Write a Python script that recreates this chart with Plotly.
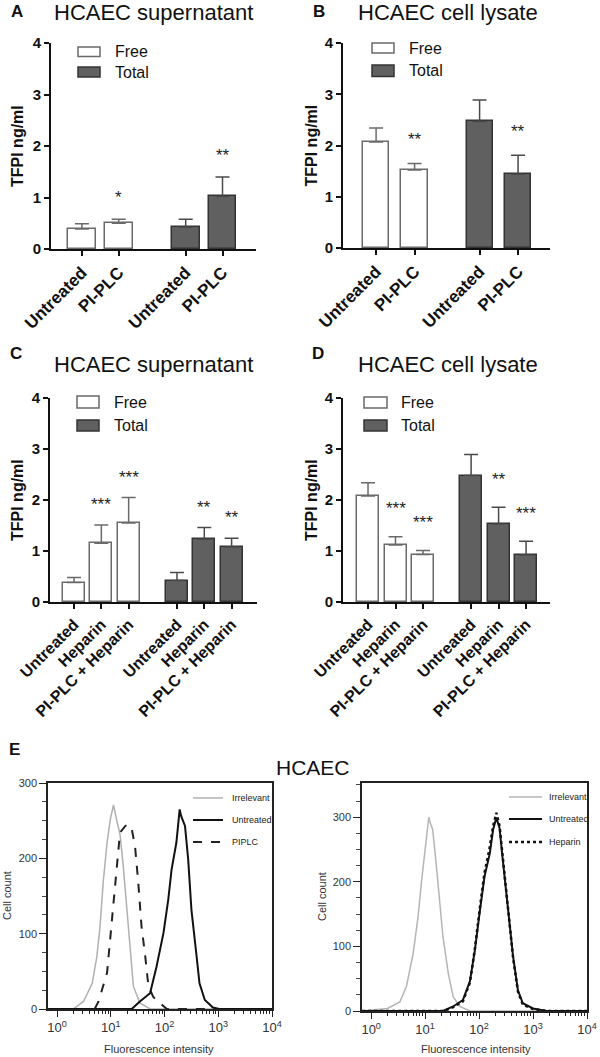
import plotly.graph_objects as go

W, H = 600, 1057
FONT = "Liberation Sans, Arial, sans-serif"

# ---------------- Data: bar panels ----------------
A_cats = ["Untreated", "PI-PLC"]
A_free = [0.39, 0.50]
A_free_err = [0.10, 0.08]
A_total = [0.42, 1.02]
A_total_err = [0.16, 0.38]
A_free_sig = ["", "*"]
A_total_sig = ["", "**"]

B_cats = ["Untreated", "PI-PLC"]
B_free = [2.07, 1.52]
B_free_err = [0.27, 0.13]
B_total = [2.47, 1.44]
B_total_err = [0.42, 0.37]
B_free_sig = ["", "**"]
B_total_sig = ["", "**"]

C_cats = ["Untreated", "Heparin", "PI-PLC + Heparin"]
C_free = [0.38, 1.15, 1.55]
C_free_err = [0.10, 0.36, 0.50]
C_total = [0.42, 1.23, 1.08]
C_total_err = [0.16, 0.23, 0.17]
C_free_sig = ["", "***", "***"]
C_total_sig = ["", "**", "**"]

D_cats = ["Untreated", "Heparin", "PI-PLC + Heparin"]
D_free = [2.08, 1.12, 0.93]
D_free_err = [0.26, 0.16, 0.08]
D_total = [2.48, 1.53, 0.92]
D_total_err = [0.41, 0.33, 0.27]
D_free_sig = ["", "***", "***"]
D_total_sig = ["", "**", "***"]

y_ticks = [0, 1, 2, 3, 4]

# ---------------- Data: flow cytometry histograms ----------------
hist_tickvals = [1, 10, 100, 1000, 10000]
hist_ticktext = ["10<sup>0</sup>", "10<sup>1</sup>", "10<sup>2</sup>", "10<sup>3</sup>", "10<sup>4</sup>"]
hist_minor = [2, 3, 4, 5, 6, 7, 8, 9, 20, 30, 40, 50, 60, 70, 80, 90,
              200, 300, 400, 500, 600, 700, 800, 900, 2000, 3000, 4000, 5000, 6000, 7000, 8000, 9000]

EL_irr_x = [0.68, 2.0, 3.1, 4.5, 5.5, 6.3, 7.2, 8.5, 9.8, 11.2, 12.9, 14.8, 17.0, 21.4, 26.3, 34.7, 53.7, 10000]
EL_irr_y = [0, 0, 10, 34, 70, 110, 168, 221, 252, 271, 250, 232, 190, 101, 30, 8, 0, 0]
EL_pi_x = [5.0, 5.9, 8.5, 11.2, 12.9, 14.8, 18.6, 21.4, 24.5, 28.2, 32.4, 37.2, 43.7, 50.1, 61.7, 81.3, 110, 10000]
EL_pi_y = [0, 10, 48, 145, 190, 234, 243, 245, 239, 216, 168, 110, 70, 30, 16, 8, 0, 0]
EL_unt_x = [0.68, 24.5, 34.7, 53.7, 70.8, 95.5, 117, 135, 166, 191, 204, 240, 275, 316, 389, 447, 562, 794, 1047, 10000]
EL_unt_y = [0, 0, 10, 21, 56, 101, 145, 185, 221, 265, 256, 243, 199, 132, 74, 34, 12, 2, 0, 0]

ER_irr_x = [0.68, 2.0, 3.4, 4.5, 6.0, 7.4, 8.5, 10.2, 11.7, 12.6, 13.8, 16.2, 18.6, 21.4, 26.9, 33.1, 43.7, 67.6, 10000]
ER_irr_y = [0, 4, 14, 38, 89, 146, 198, 260, 300, 290, 281, 224, 172, 115, 58, 22, 7, 0, 0]
ER_unt_x = [0.68, 21.4, 33.1, 50.1, 67.6, 83.2, 102, 126, 158, 182, 209, 240, 275, 347, 427, 525, 646, 1000, 1778, 10000]
ER_unt_y = [0, 0, 7, 17, 46, 93, 151, 208, 244, 281, 299, 283, 234, 156, 84, 32, 12, 4, 0, 0]
ER_hep_x = [0.68, 22.4, 33.1, 50.1, 67.6, 83.2, 102, 126, 155, 182, 209, 240, 275, 347, 427, 525, 646, 1000, 1778, 10000]
ER_hep_y = [0, 0, 6, 15, 44, 95, 156, 214, 250, 286, 307, 286, 238, 158, 82, 30, 10, 3, 0, 0]

# ---------------- Styles ----------------
FREE_LINE = "#6a6a6a"
TOTAL_FILL = "#606060"
TOTAL_LINE = "#333333"
AX = "#111111"


def pxx(p):
    return p / W


def pxy(p):
    return 1 - p / H


fig = go.Figure()
annotations = []
shapes = []


def note(x, y, text, size, color="#111", angle=0, xanchor="center", yanchor="middle", ref=("paper", "paper")):
    annotations.append(dict(x=x, y=y, xref=ref[0], yref=ref[1], text=text, showarrow=False,
                            textangle=angle, xanchor=xanchor, yanchor=yanchor,
                            font=dict(family=FONT, size=size, color=color)))


panels = [
    dict(label="A", title="HCAEC supernatant", cats=A_cats, free=A_free, ferr=A_free_err, total=A_total,
         terr=A_total_err, fsig=A_free_sig, tsig=A_total_sig, gap=0.82, bw=0.76, catsize=17,
         xd=(51, 256), yd=(43, 249), xr=(-0.84, 4.73), lab=(17, 11), tit=(153, 12),
         box_x=(78, 100), box_free=(47, 56.5), box_total=(67, 77), txt_x=113, ytitle_x=18, soff=0.42),
    dict(label="B", title="HCAEC cell lysate", cats=B_cats, free=B_free, ferr=B_free_err, total=B_total,
         terr=B_total_err, fsig=B_free_sig, tsig=B_total_sig, gap=0.69, bw=0.68, catsize=17,
         xd=(343, 550), yd=(43, 248), xr=(-0.86, 4.52), lab=(319, 11), tit=(448, 12),
         box_x=(372, 394), box_free=(43, 53), box_total=(65, 76.5), txt_x=407, ytitle_x=311, soff=0.46),
    dict(label="C", title="HCAEC supernatant", cats=C_cats, free=C_free, ferr=C_free_err, total=C_total,
         terr=C_total_err, fsig=C_free_sig, tsig=C_total_sig, gap=0.77, bw=0.8, catsize=16,
         xd=(50, 257), yd=(398, 602), xr=(-0.88, 6.70), lab=(16, 353), tit=(153, 365),
         box_x=(77, 99), box_free=(396, 408), box_total=(420, 431), txt_x=112, ytitle_x=17, soff=0.40),
    dict(label="D", title="HCAEC cell lysate", cats=D_cats, free=D_free, ferr=D_free_err, total=D_total,
         terr=D_total_err, fsig=D_free_sig, tsig=D_total_sig, gap=0.75, bw=0.8, catsize=16,
         xd=(343, 550), yd=(398, 602), xr=(-0.91, 6.62), lab=(318, 353), tit=(448, 365),
         box_x=(364, 387), box_free=(397, 408), box_total=(420, 431), txt_x=399, ytitle_x=311, soff=0.55),
]

layout_axes = {}
for i, p in enumerate(panels, start=1):
    sfx = "" if i == 1 else str(i)
    xa, ya = "x" + sfx, "y" + sfx
    n = len(p["cats"])
    xf = list(range(n))
    xt = [n + p["gap"] + k for k in range(n)]

    fig.add_trace(go.Bar(
        x=xf, y=p["free"], width=p["bw"], xaxis=xa, yaxis=ya, showlegend=False,
        marker=dict(color="white", line=dict(color=FREE_LINE, width=1.5)),
        error_y=dict(type="data", array=p["ferr"], arrayminus=[0] * n, symmetric=False,
                     color=FREE_LINE, thickness=1.5, width=7)))
    fig.add_trace(go.Bar(
        x=xt, y=p["total"], width=p["bw"], xaxis=xa, yaxis=ya, showlegend=False,
        marker=dict(color=TOTAL_FILL, line=dict(color=TOTAL_LINE, width=1.5)),
        error_y=dict(type="data", array=p["terr"], arrayminus=[0] * n, symmetric=False,
                     color="#4a4a4a", thickness=1.5, width=7)))

    layout_axes["xaxis" + sfx] = dict(
        domain=[pxx(p["xd"][0]), pxx(p["xd"][1])], range=list(p["xr"]), anchor=ya, automargin=False,
        showline=True, linewidth=2, linecolor=AX, ticks="outside", ticklen=5, tickwidth=2,
        tickcolor=AX, tickmode="array", tickvals=xf + xt, ticktext=p["cats"] + p["cats"],
        tickangle=-45, tickfont=dict(family=FONT, size=p["catsize"], color=AX, weight="bold"),
        showgrid=False, zeroline=False)
    layout_axes["yaxis" + sfx] = dict(
        domain=[pxy(p["yd"][1]), pxy(p["yd"][0])], range=[0, 4], anchor=xa, automargin=False,
        showline=True, linewidth=2, linecolor=AX, ticks="outside", ticklen=5, tickwidth=2,
        tickcolor=AX, tickmode="array", tickvals=y_ticks,
        tickfont=dict(family=FONT, size=15, color=AX, weight="bold"),
        showgrid=False, zeroline=False)

    # significance stars
    for xs, vals, errs, sigs in ((xf, p["free"], p["ferr"], p["fsig"]), (xt, p["total"], p["terr"], p["tsig"])):
        for xv, v, e, s in zip(xs, vals, errs, sigs):
            if s:
                note(xv, v + e + p["soff"], s, 17, "#222", ref=(xa, ya))

    note(pxx(p["lab"][0]), pxy(p["lab"][1]), "<b>%s</b>" % p["label"], 17)
    note(pxx(p["tit"][0]), pxy(p["tit"][1]), p["title"], 22)
    note(pxx(p["ytitle_x"]), pxy((p["yd"][0] + p["yd"][1]) / 2), "<b>TFPI ng/ml</b>", 16, angle=-90)
    for (y0, y1), fill, line, name in ((p["box_free"], "white", FREE_LINE, "Free"),
                                       (p["box_total"], TOTAL_FILL, TOTAL_LINE, "Total")):
        shapes.append(dict(type="rect", xref="paper", yref="paper",
                           x0=pxx(p["box_x"][0]), x1=pxx(p["box_x"][1]), y0=pxy(y1), y1=pxy(y0),
                           fillcolor=fill, line=dict(color=line, width=1.5)))
        note(pxx(p["txt_x"]), pxy((y0 + y1) / 2), name, 16, xanchor="left")

# ---------------- Histograms ----------------
hists = [
    dict(sfx="5", xd=(48, 272), yd=(783, 1009), yr=[0, 300],
         series=[(EL_irr_x, EL_irr_y, "#b0b0b0", "solid", 1.5, "Irrelevant"),
                 (EL_pi_x, EL_pi_y, "#222222", "dash", 2, "PIPLC"),
                 (EL_unt_x, EL_unt_y, "#111111", "solid", 2, "Untreated")],
         legend_order=["Irrelevant", "Untreated", "PIPLC"],
         leg_x=(193, 223), leg_tx=230, leg_y=[798, 820, 842], cc_x=7, fi_x=159),
    dict(sfx="6", xd=(362, 587), yd=(783, 1011), yr=[0, 353],
         series=[(ER_irr_x, ER_irr_y, "#b5b5b5", "solid", 1.5, "Irrelevant"),
                 (ER_hep_x, ER_hep_y, "#111111", "dot", 2.5, "Heparin"),
                 (ER_unt_x, ER_unt_y, "#111111", "solid", 2, "Untreated")],
         legend_order=["Irrelevant", "Untreated", "Heparin"],
         leg_x=(509, 542), leg_tx=547, leg_y=[797, 819, 842], cc_x=322, fi_x=476),
]

for h in hists:
    xa, ya = "x" + h["sfx"], "y" + h["sfx"]
    style = {}
    for xs, ys, col, dash, w, name in h["series"]:
        fig.add_trace(go.Scatter(x=xs, y=ys, mode="lines", xaxis=xa, yaxis=ya, showlegend=False,
                                 line=dict(color=col, dash=dash, width=w)))
        style[name] = (col, dash, w)
    layout_axes["xaxis" + h["sfx"]] = dict(
        type="log", domain=[pxx(h["xd"][0]), pxx(h["xd"][1])], range=[-0.17, 4], anchor=ya,
        automargin=False,
        showline=True, mirror=True, linewidth=1.5, linecolor="#222", ticks="outside", ticklen=6,
        tickwidth=1, tickcolor="#222", tickmode="array", tickvals=hist_tickvals, ticktext=hist_ticktext,
        tickfont=dict(family=FONT, size=13, color="#333"), showgrid=False, zeroline=False,
        minor=dict(ticks="outside", ticklen=3, tickcolor="#222", tickmode="array", tickvals=hist_minor,
                   showgrid=False))
    layout_axes["yaxis" + h["sfx"]] = dict(
        domain=[pxy(h["yd"][1]), pxy(h["yd"][0])], range=h["yr"], anchor=xa, automargin=False,
        showline=True, mirror=True, linewidth=1.5, linecolor="#222", ticks="outside", ticklen=7,
        tickwidth=1, tickcolor="#222", tickmode="array", tickvals=[0, 100, 200, 300],
        tickfont=dict(family=FONT, size=11, color="#333"), showgrid=False, zeroline=False,
        minor=dict(ticks="outside", ticklen=4, tickcolor="#444", dtick=25, showgrid=False))
    for name, ly in zip(h["legend_order"], h["leg_y"]):
        col, dash, w = style[name]
        shapes.append(dict(type="line", xref="paper", yref="paper", x0=pxx(h["leg_x"][0]),
                           x1=pxx(h["leg_x"][1]), y0=pxy(ly), y1=pxy(ly),
                           line=dict(color=col, dash=dash, width=w)))
        note(pxx(h["leg_tx"]), pxy(ly), name, 9, "#222", xanchor="left")
    note(pxx(h["cc_x"]), pxy((h["yd"][0] + h["yd"][1]) / 2), "Cell count", 11, "#333", angle=-90)
    note(pxx(h["fi_x"]), pxy(1049), "Fluorescence intensity", 11, "#333")

note(pxx(14), pxy(749), "<b>E</b>", 17)
note(pxx(313), pxy(767), "HCAEC", 21)

fig.update_layout(
    width=W, height=H, autosize=False,
    margin=dict(l=0, r=0, t=0, b=0, pad=0, autoexpand=False),
    paper_bgcolor="white", plot_bgcolor="white",
    barmode="overlay", bargap=0,
    annotations=annotations, shapes=shapes,
    font=dict(family=FONT),
    **layout_axes,
)

fig.write_html("out.html", config={"displayModeBar": False},
               post_script="document.body.style.margin='0';")
